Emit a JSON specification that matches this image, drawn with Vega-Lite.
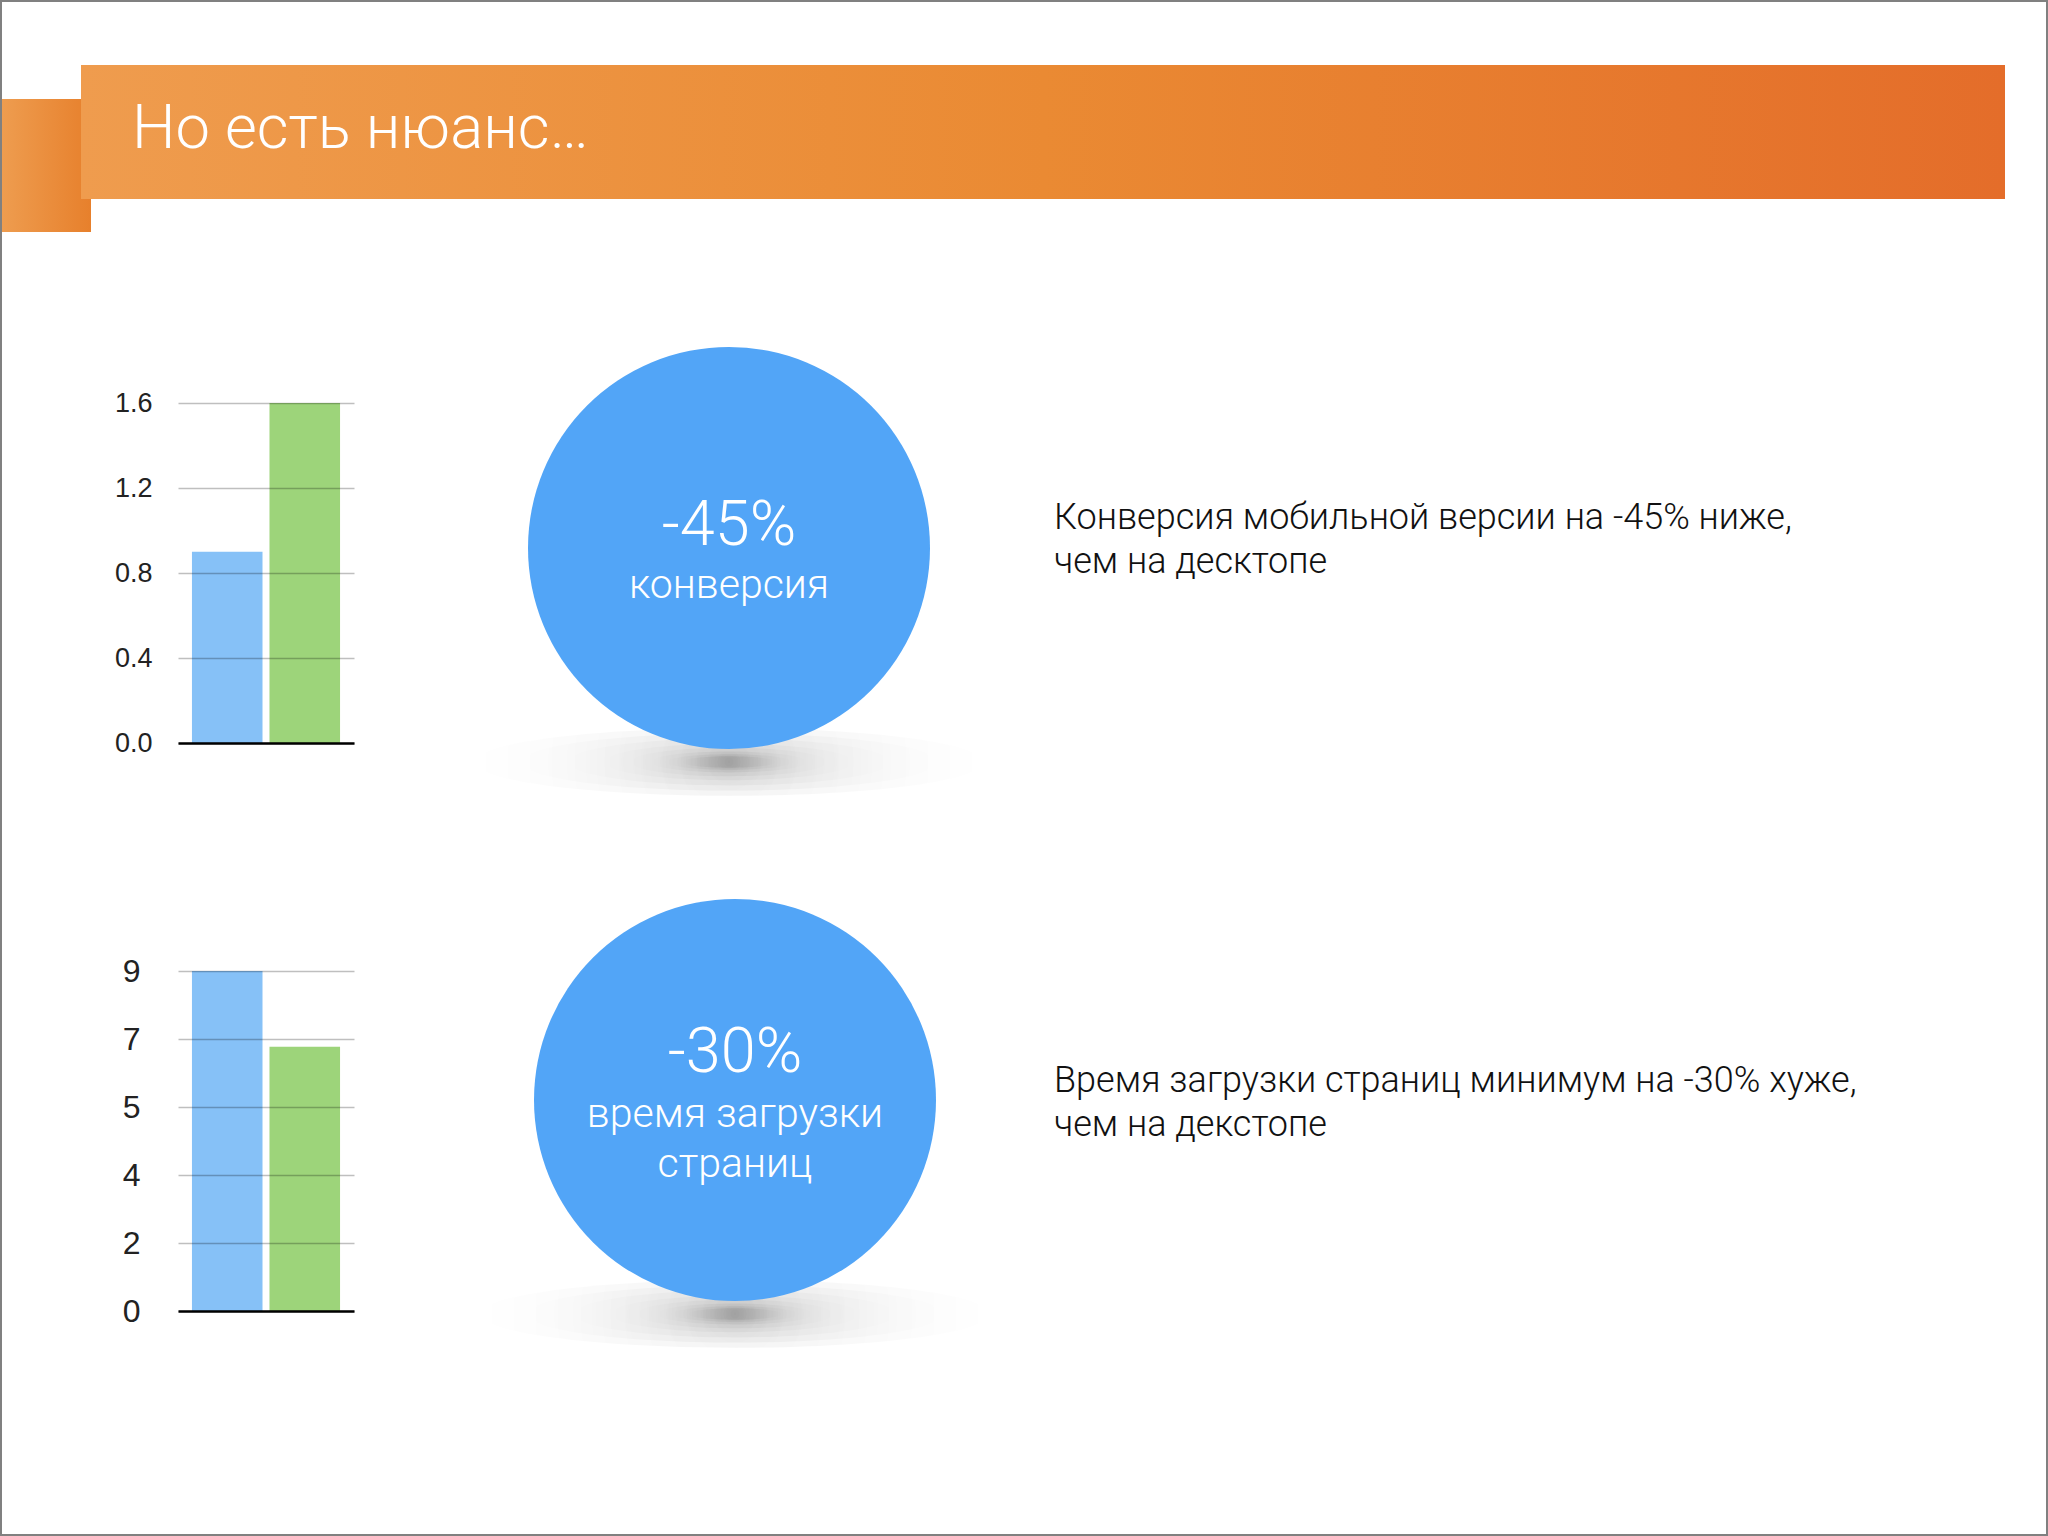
{
  "$schema": "https://vega.github.io/schema/vega-lite/v6.json",
  "background": "white",
  "padding": {"left": 0, "top": 0, "right": 0, "bottom": 0},
  "config": {
    "view": {"stroke": null},
    "font": "Liberation Sans"
  },
  "datasets": {
    "conversion": [
      {"device": "mobile", "value": 0.9},
      {"device": "desktop", "value": 1.6}
    ],
    "loadtime": [
      {"device": "mobile", "value": 8.75},
      {"device": "desktop", "value": 6.8}
    ],
    "panels": [
      {"id": "conv", "change": "-45%", "label": "конверсия", "note": "Конверсия мобильной версии на -45% ниже,\nчем на десктопе"},
      {"id": "load", "change": "-30%", "label": "время загрузки\nстраниц", "note": "Время загрузки страниц минимум на -30% хуже,\nчем на декстопе"}
    ],
    "header": [{"part": "frame"}, {"part": "tab"}, {"part": "bar"}],
    "none": []
  },
  "columns": 5,
  "bounds": "flush",
  "align": {"row": "each", "column": "each"},
  "spacing": {"row": 180, "column": 0},
  "concat": [
    {
      "width": 178, "height": 134,
      "data": {"name": "header"},
      "title": {"text": "Но есть нюанс…", "orient": "top", "anchor": "start", "frame": "group", "baseline": "alphabetic", "offset": -144, "dx": 132, "fontSize": 61.5, "fontWeight": 300, "color": "white", "font": "Roboto"},
      "layer": [
        {
          "transform": [{"filter": "datum.part === 'tab'"}],
          "mark": {"type": "point", "shape": "M -0.089 -0.033 L 0.002 -0.033 L 0.002 0.1 L -0.089 0.1 Z", "size": 4000000, "filled": true, "opacity": 1, "strokeWidth": 0,
                   "fill": {"gradient": "linear", "x1": 0, "y1": 0, "x2": 1, "y2": 0, "stops": [{"offset": 0, "color": "#EE9D50"}, {"offset": 1, "color": "#E7802C"}]}},
          "encoding": {}
        },
        {
          "transform": [{"filter": "datum.part === 'bar'"}],
          "mark": {"type": "point", "shape": "M -0.008 -0.067 L 1.916 -0.067 L 1.916 0.067 L -0.008 0.067 Z", "size": 4000000, "filled": true, "opacity": 1, "strokeWidth": 0,
                   "fill": {"gradient": "linear", "x1": 0, "y1": 0, "x2": 1, "y2": 0, "stops": [{"offset": 0, "color": "#EF9C4E"}, {"offset": 0.5, "color": "#EA8A33"}, {"offset": 1, "color": "#E46D2A"}]}},
          "encoding": {}
        }
      ]
    },
    {
      "width": 1, "height": 158,
      "data": {"name": "header"},
      "transform": [{"filter": "datum.part === 'frame'"}],
      "mark": {"type": "point", "shape": "M -0.1785 -0.144 L 1.8695 -0.144 L 1.8695 1.392 L -0.1785 1.392 Z M -0.1765 -0.142 L -0.1765 1.39 L 1.8675 1.39 L 1.8675 -0.142 Z", "size": 4000000, "filled": true, "color": "#808080", "opacity": 1, "strokeWidth": 0},
      "encoding": {}
    },
    {"width": 1, "height": 1, "data": {"name": "none"}, "mark": "point", "encoding": {}},
    {"width": 1, "height": 1, "data": {"name": "none"}, "mark": "point", "encoding": {}},
    {"width": 1, "height": 1, "data": {"name": "none"}, "mark": "point", "encoding": {}},

    {"width": 178, "height": 388, "data": {"name": "none"}, "mark": "point", "encoding": {}},
    {
      "width": 176, "height": 340,
      "data": {"name": "conversion"},
      "mark": {"type": "bar"},
      "encoding": {
        "x": {"field": "device", "type": "nominal", "sort": ["mobile", "desktop"], "scale": {"paddingInner": 0.09, "paddingOuter": 0.18},
              "axis": {"labels": false, "ticks": false, "title": null, "domainColor": "#000000", "domainWidth": 2.5, "zindex": 1}},
        "y": {"field": "value", "type": "quantitative", "scale": {"domain": [0, 1.6], "nice": false},
              "axis": {"values": [0, 0.4, 0.8, 1.2, 1.6], "format": ".1f", "title": null, "domain": false, "ticks": false, "labelPadding": 26, "labelFontSize": 27, "labelColor": "#222222", "gridColor": "#000000", "gridOpacity": 0.25, "gridWidth": 1.5, "zindex": 1}},
        "color": {"field": "device", "type": "nominal", "scale": {"domain": ["mobile", "desktop"], "range": ["#86C1F7", "#9DD47A"]}, "legend": null}
      }
    },
    {"width": 175, "height": 1, "data": {"name": "none"}, "mark": "point", "encoding": {}},
    {
      "width": 376, "height": 290,
      "data": {"name": "panels"},
      "transform": [{"filter": "datum.id === 'conv'"}],
      "layer": [
        {"mark": {"type": "point", "shape": "M -0.98 0.823 A 0.98 0.13 0 1 0 0.98 0.823 A 0.98 0.13 0 1 0 -0.98 0.823 Z", "size": 270400, "filled": true, "opacity": 0.045, "strokeWidth": 0, "fill": {"gradient": "radial", "x1": 0.5, "y1": 0.5, "r1": 0, "x2": 0.5, "y2": 0.5, "r2": 0.5, "stops": [{"offset": 0, "color": "#000000"}, {"offset": 1, "color": "rgba(0,0,0,0)"}]}}, "encoding": {}},
        {"mark": {"type": "point", "shape": "M -0.8 0.823 A 0.8 0.11 0 1 0 0.8 0.823 A 0.8 0.11 0 1 0 -0.8 0.823 Z", "size": 270400, "filled": true, "opacity": 0.045, "strokeWidth": 0, "fill": {"gradient": "radial", "x1": 0.5, "y1": 0.5, "r1": 0, "x2": 0.5, "y2": 0.5, "r2": 0.5, "stops": [{"offset": 0, "color": "#000000"}, {"offset": 1, "color": "rgba(0,0,0,0)"}]}}, "encoding": {}},
        {"mark": {"type": "point", "shape": "M -0.62 0.823 A 0.62 0.09 0 1 0 0.62 0.823 A 0.62 0.09 0 1 0 -0.62 0.823 Z", "size": 270400, "filled": true, "opacity": 0.045, "strokeWidth": 0, "fill": {"gradient": "radial", "x1": 0.5, "y1": 0.5, "r1": 0, "x2": 0.5, "y2": 0.5, "r2": 0.5, "stops": [{"offset": 0, "color": "#000000"}, {"offset": 1, "color": "rgba(0,0,0,0)"}]}}, "encoding": {}},
        {"mark": {"type": "point", "shape": "M -0.48 0.823 A 0.48 0.07 0 1 0 0.48 0.823 A 0.48 0.07 0 1 0 -0.48 0.823 Z", "size": 270400, "filled": true, "opacity": 0.045, "strokeWidth": 0, "fill": {"gradient": "radial", "x1": 0.5, "y1": 0.5, "r1": 0, "x2": 0.5, "y2": 0.5, "r2": 0.5, "stops": [{"offset": 0, "color": "#000000"}, {"offset": 1, "color": "rgba(0,0,0,0)"}]}}, "encoding": {}},
        {"mark": {"type": "point", "shape": "M -0.38 0.823 A 0.38 0.055 0 1 0 0.38 0.823 A 0.38 0.055 0 1 0 -0.38 0.823 Z", "size": 270400, "filled": true, "opacity": 0.05, "strokeWidth": 0, "fill": {"gradient": "radial", "x1": 0.5, "y1": 0.5, "r1": 0, "x2": 0.5, "y2": 0.5, "r2": 0.5, "stops": [{"offset": 0, "color": "#000000"}, {"offset": 1, "color": "rgba(0,0,0,0)"}]}}, "encoding": {}},
        {"mark": {"type": "point", "shape": "M -0.3 0.823 A 0.3 0.04 0 1 0 0.3 0.823 A 0.3 0.04 0 1 0 -0.3 0.823 Z", "size": 270400, "filled": true, "opacity": 0.06, "strokeWidth": 0, "fill": {"gradient": "radial", "x1": 0.5, "y1": 0.5, "r1": 0, "x2": 0.5, "y2": 0.5, "r2": 0.5, "stops": [{"offset": 0, "color": "#000000"}, {"offset": 1, "color": "rgba(0,0,0,0)"}]}}, "encoding": {}},
        {"mark": {"type": "point", "shape": "M -0.24 0.823 A 0.24 0.03 0 1 0 0.24 0.823 A 0.24 0.03 0 1 0 -0.24 0.823 Z", "size": 270400, "filled": true, "opacity": 0.07, "strokeWidth": 0, "fill": {"gradient": "radial", "x1": 0.5, "y1": 0.5, "r1": 0, "x2": 0.5, "y2": 0.5, "r2": 0.5, "stops": [{"offset": 0, "color": "#000000"}, {"offset": 1, "color": "rgba(0,0,0,0)"}]}}, "encoding": {}},
        {"mark": {"type": "point", "shape": "M -0.18 0.823 A 0.18 0.022 0 1 0 0.18 0.823 A 0.18 0.022 0 1 0 -0.18 0.823 Z", "size": 270400, "filled": true, "opacity": 0.09, "strokeWidth": 0, "fill": {"gradient": "radial", "x1": 0.5, "y1": 0.5, "r1": 0, "x2": 0.5, "y2": 0.5, "r2": 0.5, "stops": [{"offset": 0, "color": "#000000"}, {"offset": 1, "color": "rgba(0,0,0,0)"}]}}, "encoding": {}},
        {"mark": {"type": "point", "shape": "circle", "size": 161604, "filled": true, "color": "#52A5F7", "opacity": 1, "strokeWidth": 0}, "encoding": {}},
        {"mark": {"type": "text", "fontSize": 63, "font": "Roboto", "fontWeight": 300, "color": "white", "baseline": "alphabetic", "align": "center", "dy": -3}, "encoding": {"text": {"field": "change", "type": "nominal"}}},
        {"mark": {"type": "text", "fontSize": 41, "font": "Roboto", "fontWeight": 300, "color": "white", "baseline": "alphabetic", "align": "center", "dy": 50, "lineHeight": 50, "lineBreak": "\n"}, "encoding": {"text": {"field": "label", "type": "nominal"}}}
      ]
    },
    {
      "width": 250, "height": 252,
      "data": {"name": "panels"},
      "transform": [{"filter": "datum.id === 'conv'"}],
      "mark": {"type": "text", "align": "left", "baseline": "alphabetic", "fontSize": 36, "font": "Roboto", "fontWeight": 300, "lineHeight": 44, "lineBreak": "\n", "color": "#111111"},
      "encoding": {"text": {"field": "note", "type": "nominal"}}
    },

    {"width": 172, "height": 1, "data": {"name": "none"}, "mark": "point", "encoding": {}},
    {
      "width": 176, "height": 340,
      "data": {"name": "loadtime"},
      "mark": {"type": "bar"},
      "encoding": {
        "x": {"field": "device", "type": "nominal", "sort": ["mobile", "desktop"], "scale": {"paddingInner": 0.09, "paddingOuter": 0.18},
              "axis": {"labels": false, "ticks": false, "title": null, "domainColor": "#000000", "domainWidth": 2.5, "zindex": 1}},
        "y": {"field": "value", "type": "quantitative", "scale": {"domain": [0, 8.75], "nice": false},
              "axis": {"values": [0, 1.75, 3.5, 5.25, 7, 8.75], "format": ".0f", "title": null, "domain": false, "ticks": false, "labelPadding": 38, "labelFontSize": 32, "labelColor": "#222222", "gridColor": "#000000", "gridOpacity": 0.25, "gridWidth": 1.5, "zindex": 1}},
        "color": {"field": "device", "type": "nominal", "scale": {"domain": ["mobile", "desktop"], "range": ["#86C1F7", "#9DD47A"]}, "legend": null}
      }
    },
    {"width": 187, "height": 1, "data": {"name": "none"}, "mark": "point", "encoding": {}},
    {
      "width": 388, "height": 258,
      "data": {"name": "panels"},
      "transform": [{"filter": "datum.id === 'load'"}],
      "layer": [
        {"mark": {"type": "point", "shape": "M -0.98 0.823 A 0.98 0.13 0 1 0 0.98 0.823 A 0.98 0.13 0 1 0 -0.98 0.823 Z", "size": 270400, "filled": true, "opacity": 0.045, "strokeWidth": 0, "fill": {"gradient": "radial", "x1": 0.5, "y1": 0.5, "r1": 0, "x2": 0.5, "y2": 0.5, "r2": 0.5, "stops": [{"offset": 0, "color": "#000000"}, {"offset": 1, "color": "rgba(0,0,0,0)"}]}}, "encoding": {}},
        {"mark": {"type": "point", "shape": "M -0.8 0.823 A 0.8 0.11 0 1 0 0.8 0.823 A 0.8 0.11 0 1 0 -0.8 0.823 Z", "size": 270400, "filled": true, "opacity": 0.045, "strokeWidth": 0, "fill": {"gradient": "radial", "x1": 0.5, "y1": 0.5, "r1": 0, "x2": 0.5, "y2": 0.5, "r2": 0.5, "stops": [{"offset": 0, "color": "#000000"}, {"offset": 1, "color": "rgba(0,0,0,0)"}]}}, "encoding": {}},
        {"mark": {"type": "point", "shape": "M -0.62 0.823 A 0.62 0.09 0 1 0 0.62 0.823 A 0.62 0.09 0 1 0 -0.62 0.823 Z", "size": 270400, "filled": true, "opacity": 0.045, "strokeWidth": 0, "fill": {"gradient": "radial", "x1": 0.5, "y1": 0.5, "r1": 0, "x2": 0.5, "y2": 0.5, "r2": 0.5, "stops": [{"offset": 0, "color": "#000000"}, {"offset": 1, "color": "rgba(0,0,0,0)"}]}}, "encoding": {}},
        {"mark": {"type": "point", "shape": "M -0.48 0.823 A 0.48 0.07 0 1 0 0.48 0.823 A 0.48 0.07 0 1 0 -0.48 0.823 Z", "size": 270400, "filled": true, "opacity": 0.045, "strokeWidth": 0, "fill": {"gradient": "radial", "x1": 0.5, "y1": 0.5, "r1": 0, "x2": 0.5, "y2": 0.5, "r2": 0.5, "stops": [{"offset": 0, "color": "#000000"}, {"offset": 1, "color": "rgba(0,0,0,0)"}]}}, "encoding": {}},
        {"mark": {"type": "point", "shape": "M -0.38 0.823 A 0.38 0.055 0 1 0 0.38 0.823 A 0.38 0.055 0 1 0 -0.38 0.823 Z", "size": 270400, "filled": true, "opacity": 0.05, "strokeWidth": 0, "fill": {"gradient": "radial", "x1": 0.5, "y1": 0.5, "r1": 0, "x2": 0.5, "y2": 0.5, "r2": 0.5, "stops": [{"offset": 0, "color": "#000000"}, {"offset": 1, "color": "rgba(0,0,0,0)"}]}}, "encoding": {}},
        {"mark": {"type": "point", "shape": "M -0.3 0.823 A 0.3 0.04 0 1 0 0.3 0.823 A 0.3 0.04 0 1 0 -0.3 0.823 Z", "size": 270400, "filled": true, "opacity": 0.06, "strokeWidth": 0, "fill": {"gradient": "radial", "x1": 0.5, "y1": 0.5, "r1": 0, "x2": 0.5, "y2": 0.5, "r2": 0.5, "stops": [{"offset": 0, "color": "#000000"}, {"offset": 1, "color": "rgba(0,0,0,0)"}]}}, "encoding": {}},
        {"mark": {"type": "point", "shape": "M -0.24 0.823 A 0.24 0.03 0 1 0 0.24 0.823 A 0.24 0.03 0 1 0 -0.24 0.823 Z", "size": 270400, "filled": true, "opacity": 0.07, "strokeWidth": 0, "fill": {"gradient": "radial", "x1": 0.5, "y1": 0.5, "r1": 0, "x2": 0.5, "y2": 0.5, "r2": 0.5, "stops": [{"offset": 0, "color": "#000000"}, {"offset": 1, "color": "rgba(0,0,0,0)"}]}}, "encoding": {}},
        {"mark": {"type": "point", "shape": "M -0.18 0.823 A 0.18 0.022 0 1 0 0.18 0.823 A 0.18 0.022 0 1 0 -0.18 0.823 Z", "size": 270400, "filled": true, "opacity": 0.09, "strokeWidth": 0, "fill": {"gradient": "radial", "x1": 0.5, "y1": 0.5, "r1": 0, "x2": 0.5, "y2": 0.5, "r2": 0.5, "stops": [{"offset": 0, "color": "#000000"}, {"offset": 1, "color": "rgba(0,0,0,0)"}]}}, "encoding": {}},
        {"mark": {"type": "point", "shape": "circle", "size": 161604, "filled": true, "color": "#52A5F7", "opacity": 1, "strokeWidth": 0}, "encoding": {}},
        {"mark": {"type": "text", "fontSize": 63, "font": "Roboto", "fontWeight": 300, "color": "white", "baseline": "alphabetic", "align": "center", "dy": -28}, "encoding": {"text": {"field": "change", "type": "nominal"}}},
        {"mark": {"type": "text", "fontSize": 41, "font": "Roboto", "fontWeight": 300, "color": "white", "baseline": "alphabetic", "align": "center", "dy": 27, "lineHeight": 50, "lineBreak": "\n"}, "encoding": {"text": {"field": "label", "type": "nominal"}}}
      ]
    },
    {
      "width": 250, "height": 242,
      "data": {"name": "panels"},
      "transform": [{"filter": "datum.id === 'load'"}],
      "mark": {"type": "text", "align": "left", "baseline": "alphabetic", "fontSize": 36, "font": "Roboto", "fontWeight": 300, "lineHeight": 44, "lineBreak": "\n", "color": "#111111"},
      "encoding": {"text": {"field": "note", "type": "nominal"}}
    }
  ]
}
